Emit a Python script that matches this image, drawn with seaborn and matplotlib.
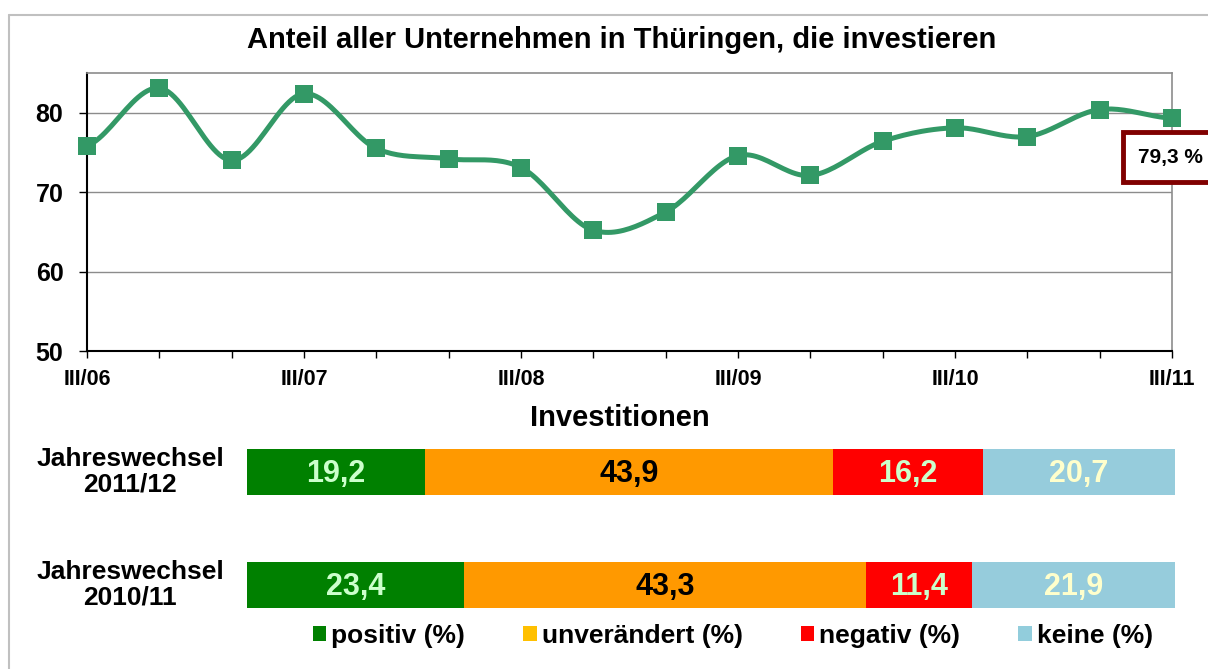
import numpy as np
import pandas as pd
import matplotlib
matplotlib.use("Agg")
import matplotlib.pyplot as plt
from matplotlib.patches import Patch
from matplotlib.lines import Line2D
import seaborn as sns

# Daten
perioden = ["III/06", "I/07", "II/07", "III/07", "I/08", "II/08", "III/08", "I/09",
            "II/09", "III/09", "I/10", "II/10", "III/10", "I/11", "II/11", "III/11"]
anteil = [75.8, 83.1, 74.0, 82.4, 75.5, 74.2, 73.1, 65.2,
          67.5, 74.6, 72.1, 76.4, 78.1, 77.0, 80.4, 79.3]

kategorien = ["positiv (%)", "unverändert (%)", "negativ (%)", "keine (%)"]
zeitraum = ["Jahreswechsel\n2011/12", "Jahreswechsel\n2010/11"]
werte = {
    "Jahreswechsel\n2011/12": [19.2, 43.9, 16.2, 20.7],
    "Jahreswechsel\n2010/11": [23.4, 43.3, 11.4, 21.9],
}

bar_farben = ["#008000", "#FF9900", "#FF0000", "#96CCDC"]
legend_farben = ["#008000", "#FFC000", "#FF0000", "#92CDDC"]
text_farben = ["#CCFFCC", "#000000", "#CCFFCC", "#FFFFCC"]
linien_farbe = "#339966"

sns.set_theme(style="white")
plt.rcParams["font.family"] = ["Liberation Sans", "DejaVu Sans"]
plt.rcParams["font.weight"] = "bold"
plt.rcParams["text.color"] = "black"
plt.rcParams["xtick.color"] = "black"
plt.rcParams["ytick.color"] = "black"
plt.rcParams["xtick.labelcolor"] = "black"
plt.rcParams["ytick.labelcolor"] = "black"

W, H = 1208, 669
fig = plt.figure(figsize=(W / 100, H / 100), dpi=100)


def px(x0, y0, x1, y1):
    # Pixelbox -> Figurkoordinaten
    return [x0 / W, 1 - y1 / H, (x1 - x0) / W, (y1 - y0) / H]


def catmull_rom(y, n=24):
    # geglaettete Linie wie in Excel
    p = np.concatenate([[y[0]], y, [y[-1]]])
    xs, ys = [], []
    for i in range(len(y) - 1):
        p0, p1, p2, p3 = p[i], p[i + 1], p[i + 2], p[i + 3]
        t = np.linspace(0, 1, n, endpoint=False)
        yy = 0.5 * (2 * p1 + (-p0 + p2) * t + (2 * p0 - 5 * p1 + 4 * p2 - p3) * t ** 2
                    + (-p0 + 3 * p1 - 3 * p2 + p3) * t ** 3)
        xs.append(i + t)
        ys.append(yy)
    xs.append([len(y) - 1])
    ys.append([y[-1]])
    return np.concatenate(xs), np.concatenate(ys)


# --- Liniendiagramm ---
ax = fig.add_axes(px(87, 73, 1172, 351))
sx, sy = catmull_rom(np.array(anteil))
sns.lineplot(x=sx, y=sy, ax=ax, color=linien_farbe, lw=3.6, sort=False, zorder=3)
df = pd.DataFrame({"pos": np.arange(len(anteil)), "anteil": anteil})
sns.scatterplot(data=df, x="pos", y="anteil", ax=ax, marker="s", s=150,
                color=linien_farbe, edgecolor=linien_farbe, linewidth=0, zorder=4,
                clip_on=False)
ax.set_xlim(0, len(anteil) - 1)
ax.set_ylim(50, 85)
ax.set_yticks([50, 60, 70, 80])
ax.set_xticks(range(len(anteil)))
ax.set_xticklabels([p if p.startswith("III") else "" for p in perioden])
ax.set_xlabel("")
ax.set_ylabel("")
ax.tick_params(axis="y", labelsize=18, length=6, width=1, direction="out",
               pad=11, left=True, color="black", labelcolor="black")
ax.tick_params(axis="x", labelsize=15.5, length=5, width=1, direction="out",
               pad=8, bottom=True, color="black", labelcolor="black")
for lab in ax.get_xticklabels() + ax.get_yticklabels():
    lab.set_fontweight("bold")
ax.grid(axis="y", color="#8c8c8c", lw=1)
ax.grid(axis="x", visible=False)
for s in ["left", "bottom"]:
    ax.spines[s].set_color("black")
    ax.spines[s].set_linewidth(1.5)
for s in ["top", "right"]:
    ax.spines[s].set_color("#8c8c8c")
    ax.spines[s].set_linewidth(1.2)

ax.annotate("79,3 %", xy=(len(anteil) - 1, anteil[-1]), xytext=(-1, -28),
            textcoords="offset points", ha="center", va="center", fontsize=15,
            fontweight="bold", color="black", annotation_clip=False,
            bbox=dict(boxstyle="square,pad=0.75", fc="white", ec="#800000", lw=3.5))

fig.text(622 / W, 1 - 40 / H, "Anteil aller Unternehmen in Thüringen, die investieren",
         ha="center", va="center", fontsize=21, fontweight="bold", color="black")

# --- Balkendiagramm ---
bx = fig.add_axes(px(247, 415.5, 1175, 641.5))
matrix = np.array([werte[z] for z in zeitraum])
kumuliert = np.cumsum(matrix, axis=1)
for k in range(len(kategorien) - 1, -1, -1):
    sns.barplot(x=kumuliert[:, k], y=zeitraum, orient="h", color=bar_farben[k],
                width=0.4, ax=bx, saturation=1, edgecolor="none", linewidth=0)
for i, z in enumerate(zeitraum):
    start = 0
    for k, v in enumerate(werte[z]):
        bx.text(start + v / 2, i + 0.02, f"{v:.1f}".replace(".", ","), ha="center",
                va="center", fontsize=22, fontweight="bold", color=text_farben[k])
        start += v
    bx.text(-12.6, i, z, ha="center", va="center", fontsize=19, fontweight="bold",
            linespacing=1.1, color="black")
bx.set_xlim(0, 100)
bx.set_ylim(1.5, -0.5)
bx.axis("off")

fig.text(620 / W, 1 - 418 / H, "Investitionen", ha="center", va="center",
         fontsize=21, fontweight="bold", color="black")

handles = [Patch(facecolor=c, edgecolor="none") for c in legend_farben]
leg = fig.legend(handles, kategorien, loc="center", bbox_to_anchor=(733 / W, 1 - 636 / H),
                 ncol=4, frameon=False, handlelength=0.5, handleheight=0.5,
                 handletextpad=0.2, columnspacing=2.2, prop={"weight": "bold", "size": 19})
for t in leg.get_texts():
    t.set_color("black")

# Rahmen
fig.add_artist(Line2D([9 / W, 9 / W], [0, 1 - 15 / H], color="#c0c0c0", lw=1.5))
fig.add_artist(Line2D([9 / W, 1], [1 - 15 / H, 1 - 15 / H], color="#c0c0c0", lw=1.5))

fig.savefig("out.png", dpi=100)
